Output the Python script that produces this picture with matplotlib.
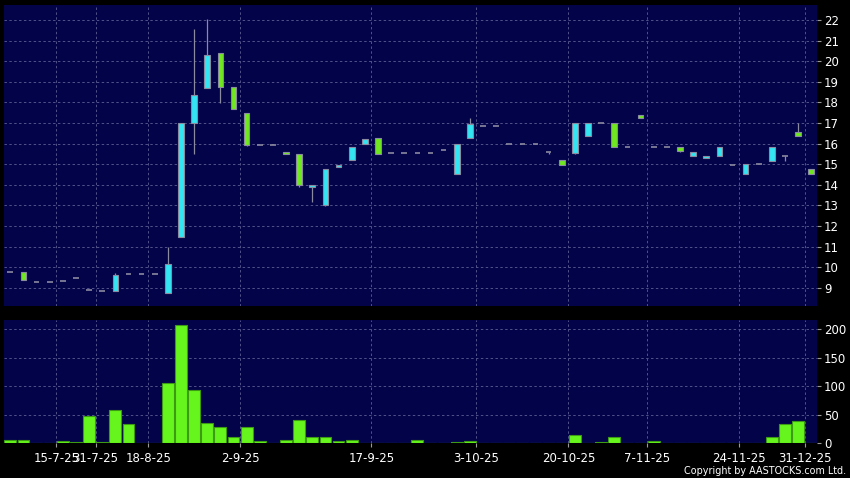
import numpy as np
import matplotlib
matplotlib.use('Agg')
import matplotlib.pyplot as plt

# daily candles (trading days only)
opens = [9.78, 9.78, 9.29, 9.29, 9.34, 9.49, 8.88, 8.85, 8.85, 9.68, 9.68, 9.68, 8.76, 11.48, 17.02, 18.68,
         20.38, 18.73, 17.49, 15.95, 15.95, 15.6, 15.5, 13.9, 13.04, 14.88, 15.2, 16.0, 16.25, 15.52, 15.52, 15.52,
         15.52, 15.71, 14.54, 16.25, 16.83, 16.83, 16.0, 16.0, 16.0, 15.61, 15.22, 15.55, 16.39, 17.0,
         16.98, 15.84, 17.39, 15.81, 15.81, 15.81, 15.42, 15.32, 15.42, 14.98, 14.5, 15.01, 15.13, 15.42, 16.57, 14.79]
highs = [9.78, 9.78, 9.29, 9.29, 9.34, 9.49, 8.88, 8.85, 9.74, 9.68, 9.68, 9.68, 11.0, 17.02, 21.56, 22.05,
         20.38, 18.73, 17.49, 15.95, 15.95, 15.6, 15.5, 14.0, 14.79, 14.98, 15.81, 16.2, 16.25, 15.52, 15.52, 15.52,
         15.52, 15.71, 16.0, 17.23, 16.83, 16.83, 16.0, 16.0, 16.0, 15.61, 15.22, 17.0, 17.0, 17.0,
         16.98, 15.84, 17.39, 15.81, 15.81, 15.81, 15.57, 15.42, 15.81, 14.98, 15.03, 15.01, 15.81, 15.42, 17.02, 14.79]
lows = [9.78, 9.39, 9.29, 9.29, 9.34, 9.49, 8.88, 8.85, 8.85, 9.68, 9.68, 9.68, 8.76, 11.48, 15.5, 18.68,
        17.98, 17.66, 15.89, 15.95, 15.95, 15.5, 13.9, 13.16, 12.99, 14.88, 15.2, 16.0, 15.5, 15.52, 15.52, 15.52,
        15.52, 15.71, 14.54, 16.25, 16.83, 16.83, 16.0, 16.0, 16.0, 15.5, 14.98, 15.5, 16.39, 17.0,
        15.81, 15.84, 17.23, 15.81, 15.81, 15.57, 15.42, 15.32, 15.42, 14.98, 14.5, 15.01, 15.13, 15.13, 16.39, 14.5]
closes = [9.78, 9.39, 9.29, 9.29, 9.34, 9.49, 8.88, 8.85, 9.63, 9.68, 9.68, 9.68, 10.17, 17.02, 18.34, 20.28,
          18.73, 17.66, 15.95, 15.95, 15.95, 15.5, 14.01, 14.0, 14.79, 14.98, 15.81, 16.2, 15.5, 15.52, 15.52, 15.52,
          15.52, 15.71, 16.0, 16.93, 16.83, 16.83, 16.0, 16.0, 16.0, 15.61, 14.98, 17.0, 17.0, 17.0,
          15.81, 15.84, 17.23, 15.81, 15.81, 15.66, 15.57, 15.42, 15.81, 14.98, 15.03, 15.01, 15.81, 15.42, 16.39, 14.5]
volumes = [5.8, 6.4, 0, 0, 3.5, 2, 48.5, 2, 58.5, 34, 0, 0.3, 105, 207.6, 93.6, 35, 28, 11.7, 28.7, 3.5, 1, 5.3,
           41, 11.7, 11.7, 4, 6.4, 1, 0.5, 0, 1, 6,
           0, 0, 2.5, 5, 0, 0, 0, 1, 1, 1, 1.5, 14.7, 1, 2, 11.8, 1, 0, 3.5, 0.5, 1.5, 1, 0, 1.5, 1.5, 0, 1,
           11.8, 34, 38.8, 1.5]

tick_pos = [3.5, 6.5, 10.5, 17.5, 27.5, 35.5, 42.5, 48.5, 55.5, 60.5]
tick_labels = ['15-7-25', '31-7-25', '18-8-25', '2-9-25', '17-9-25', '3-10-25', '20-10-25', '7-11-25',
               '24-11-25', '31-12-25']

bg = '#03034a'
grid_c = '#52528a'
up_c = '#33e4f2'
down_c = '#6fe81e'
edge_c = '#8a8aa0'

fig = plt.figure(figsize=(8.5, 4.78), dpi=100, facecolor='black')
ax = fig.add_axes([0.0047, 0.3588, 0.9565, 0.6308], facecolor=bg)
axv = fig.add_axes([0.0047, 0.0722, 0.9565, 0.2584], facecolor=bg, sharex=ax)

x = np.arange(len(opens))
o = np.array(opens)
c = np.array(closes)
h = np.array(highs)
l = np.array(lows)

# wicks
ax.vlines(x, l, h, color=edge_c, lw=0.9, zorder=2)
# bodies
body = np.abs(c - o)
doji = body < 0.03
cols = np.where(c >= o, up_c, down_c)
ax.bar(x[~doji], body[~doji], bottom=np.minimum(o, c)[~doji], width=0.43,
       color=cols[~doji], edgecolor=edge_c, linewidth=0.8, zorder=3)
ax.hlines(c[doji], x[doji] - 0.215, x[doji] + 0.215, color=edge_c, lw=1.2, zorder=3)

# volume
axv.bar(x, volumes, width=0.9, color='#66f51c', edgecolor='#3c9a14', linewidth=0.8, zorder=3)

for a in (ax, axv):
    for s in a.spines.values():
        s.set_visible(False)
    a.grid(True, color=grid_c, linestyle=(0, (2.5, 2.5)), linewidth=0.7, zorder=1)
    a.yaxis.tick_right()
    a.tick_params(axis='y', colors='white', labelsize=8.5, length=3, width=0.8, pad=2)
    a.tick_params(axis='y', color='#9a9a9a')

ax.set_xlim(-0.48, 61.44)
ax.set_ylim(8.09, 22.73)
ax.set_yticks(range(9, 23))
ax.tick_params(axis='x', bottom=False, labelbottom=False)

axv.set_ylim(0, 216)
axv.set_yticks([0, 50, 100, 150, 200])
axv.set_xticks(tick_pos)
axv.set_xticklabels(tick_labels)
axv.tick_params(axis='x', colors='white', labelsize=8.5, length=3, width=0.8, pad=3)
axv.tick_params(axis='x', color='#9a9a9a')

fig.text(0.995, 0.004, 'Copyright by AASTOCKS.com Ltd.', color='white', fontsize=6.9,
         ha='right', va='bottom')

fig.savefig('out.png', dpi=100, facecolor='black')
